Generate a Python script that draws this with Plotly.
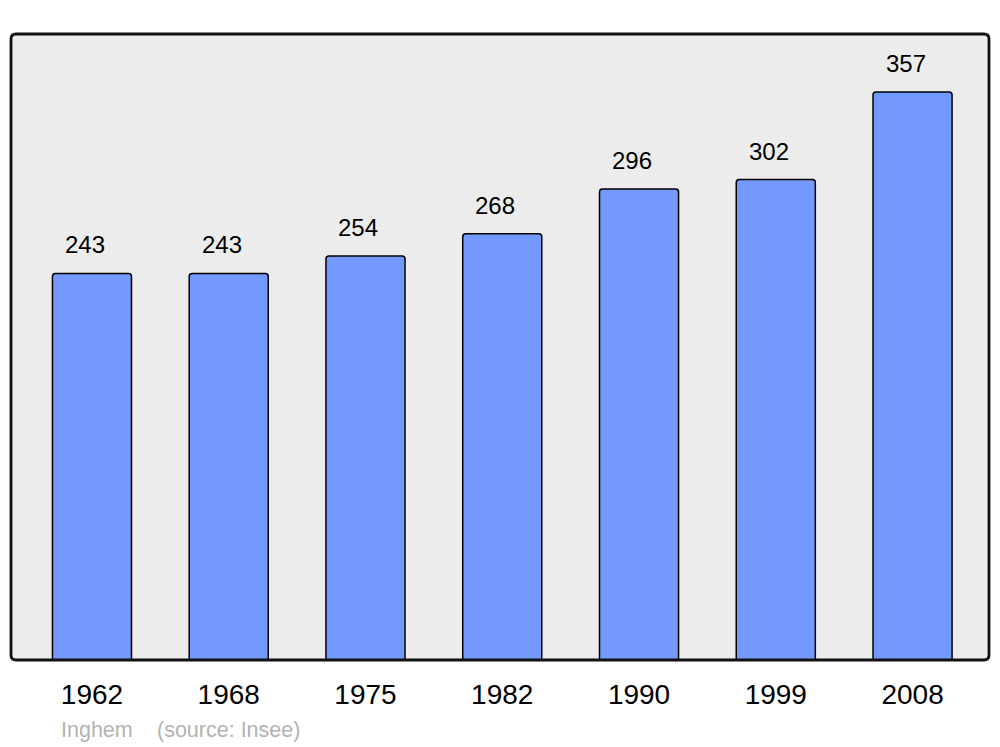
import plotly.graph_objects as go

years = ["1962", "1968", "1975", "1982", "1990", "1999", "2008"]
population = [243, 243, 254, 268, 296, 302, 357]
commune = "Inghem"
source_note = "(source: Insee)"

W, H = 1000, 747
L, R, T, B = 11, 11, 34, 87
pw, ph = W - L - R, H - T - B

fig = go.Figure()
fig.add_trace(go.Bar(
    x=list(range(len(years))), y=population,
    marker=dict(color="#7399ff", line=dict(color="#000000", width=1.5), cornerradius=3),
    hoverinfo="skip",
))

for i, v in enumerate(population):
    fig.add_annotation(x=i, y=v, text=str(v), showarrow=False, yanchor="bottom",
                       yshift=13, xshift=-7, font=dict(family="Liberation Sans, Arial", size=24, color="#000"))

def rounded_path(r_px):
    rx, ry = r_px / pw, r_px / ph
    return (f"M {rx},0 L {1-rx},0 Q 1,0 1,{ry} L 1,{1-ry} Q 1,1 {1-rx},1 "
            f"L {rx},1 Q 0,1 0,{1-ry} L 0,{ry} Q 0,0 {rx},0 Z")

fig.add_shape(type="path", path=rounded_path(5), xref="paper", yref="paper",
              fillcolor="#ececec", line=dict(width=0), layer="below")
fig.add_shape(type="path", path=rounded_path(5), xref="paper", yref="paper",
              line=dict(color="#111111", width=2.8), layer="above")

fig.add_annotation(x=(59 - L) / pw, y=(660 - 730) / ph, xref="paper", yref="paper",
                   text=commune, showarrow=False, xanchor="left", yanchor="middle",
                   font=dict(family="Liberation Sans, Arial", size=21.5, color="#b3b3b3"))
fig.add_annotation(x=(155 - L) / pw, y=(660 - 730) / ph, xref="paper", yref="paper",
                   text=source_note, showarrow=False, xanchor="left", yanchor="middle",
                   font=dict(family="Liberation Sans, Arial", size=21.5, color="#b3b3b3"))

fig.update_layout(
    width=W, height=H,
    margin=dict(l=L, r=R, t=T, b=B, pad=0),
    paper_bgcolor="white", plot_bgcolor="rgba(0,0,0,0)",
    bargap=0.422, showlegend=False,
    xaxis=dict(range=[-0.592, 6.559], tickmode="array", tickvals=list(range(len(years))),
               ticktext=years, showgrid=False, zeroline=False, showline=False, ticks="",
               tickfont=dict(family="Liberation Sans, Arial", size=28, color="#000"),
               ticklabelstandoff=15, fixedrange=True),
    yaxis=dict(range=[0, 393.5], showgrid=False, zeroline=False, showline=False,
               showticklabels=False, ticks="", fixedrange=True),
)

fig.write_html("out.html", config={"displayModeBar": False},
               post_script="document.body.style.margin='0';document.body.style.overflow='hidden';")
